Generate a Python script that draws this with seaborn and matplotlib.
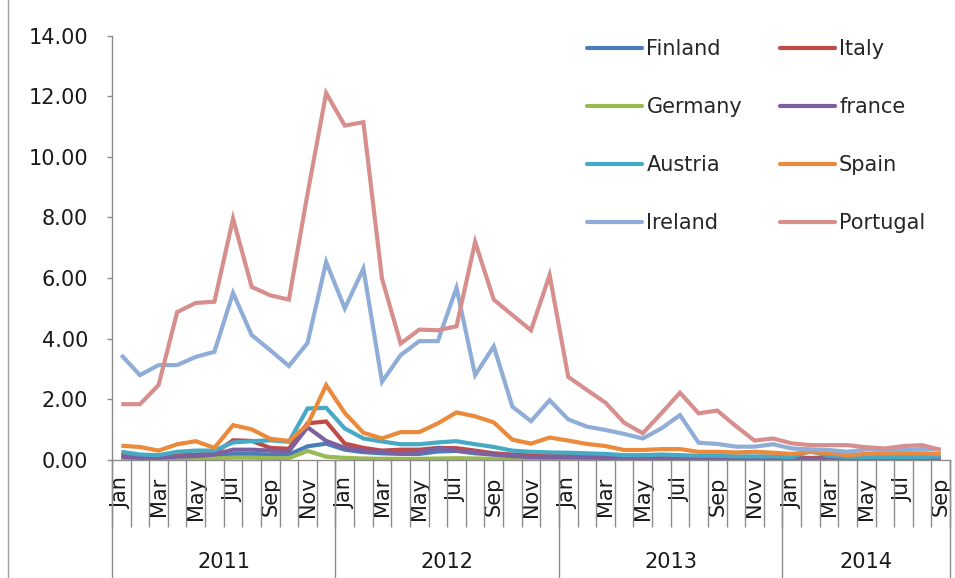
import numpy as np
import pandas as pd
import matplotlib
matplotlib.use("Agg")
import matplotlib.pyplot as plt
import matplotlib.transforms as mtransforms
from matplotlib.lines import Line2D
import seaborn as sns

# ---------------- data ----------------
years = ["2011", "2012", "2013", "2014"]
month_names = ["Jan", "Feb", "Mar", "Apr", "May", "Jun",
               "Jul", "Aug", "Sep", "Oct", "Nov", "Dec"]
months_per_year = [12, 12, 12, 9]

countries = ["Finland", "Italy", "Germany", "france",
             "Austria", "Spain", "Ireland", "Portugal"]

finland = [0.08, 0.06, 0.06, 0.08, 0.10, 0.12, 0.20, 0.20, 0.18, 0.18, 0.45, 0.54,
           0.34, 0.26, 0.22, 0.20, 0.20, 0.28, 0.30, 0.22, 0.18, 0.14, 0.12, 0.10,
           0.10, 0.09, 0.08, 0.08, 0.08, 0.07, 0.07, 0.07, 0.06, 0.06, 0.06, 0.06,
           0.06, 0.06, 0.06, 0.05, 0.05, 0.05, 0.05, 0.05, 0.05]
italy = [0.15, 0.10, 0.10, 0.15, 0.18, 0.22, 0.65, 0.63, 0.40, 0.37, 1.21, 1.27,
         0.54, 0.40, 0.31, 0.34, 0.34, 0.40, 0.39, 0.31, 0.22, 0.18, 0.15, 0.14,
         0.14, 0.12, 0.10, 0.10, 0.10, 0.10, 0.10, 0.09, 0.09, 0.08, 0.08, 0.08,
         0.07, 0.07, 0.07, 0.06, 0.06, 0.06, 0.06, 0.06, 0.06]
germany = [0.03, 0.02, 0.02, 0.03, 0.04, 0.05, 0.08, 0.08, 0.06, 0.06, 0.30, 0.11,
           0.07, 0.05, 0.04, 0.04, 0.04, 0.05, 0.06, 0.05, 0.04, 0.03, 0.03, 0.03,
           0.03, 0.03, 0.03, 0.02, 0.02, 0.02, 0.02, 0.02, 0.02, 0.02, 0.02, 0.02,
           0.02, 0.02, 0.02, 0.02, 0.02, 0.02, 0.02, 0.02, 0.02]
france = [0.11, 0.07, 0.07, 0.11, 0.13, 0.18, 0.34, 0.34, 0.31, 0.29, 1.08, 0.63,
          0.40, 0.31, 0.26, 0.22, 0.25, 0.40, 0.31, 0.25, 0.18, 0.13, 0.10, 0.09,
          0.09, 0.08, 0.07, 0.07, 0.06, 0.06, 0.06, 0.05, 0.05, 0.05, 0.05, 0.04,
          0.04, 0.04, 0.04, 0.04, 0.04, 0.04, 0.04, 0.04, 0.04]
austria = [0.27, 0.18, 0.16, 0.27, 0.31, 0.31, 0.58, 0.62, 0.65, 0.60, 1.70, 1.72,
           1.04, 0.71, 0.61, 0.52, 0.52, 0.58, 0.62, 0.52, 0.43, 0.31, 0.27, 0.25,
           0.24, 0.22, 0.20, 0.16, 0.16, 0.18, 0.16, 0.14, 0.14, 0.12, 0.12, 0.12,
           0.10, 0.28, 0.14, 0.10, 0.10, 0.10, 0.10, 0.10, 0.12]
spain = [0.47, 0.43, 0.31, 0.52, 0.62, 0.40, 1.15, 1.01, 0.70, 0.63, 1.16, 2.47,
         1.55, 0.90, 0.71, 0.92, 0.92, 1.21, 1.57, 1.44, 1.24, 0.67, 0.54, 0.74,
         0.64, 0.53, 0.46, 0.33, 0.33, 0.36, 0.36, 0.27, 0.27, 0.25, 0.27, 0.24,
         0.20, 0.27, 0.22, 0.16, 0.20, 0.22, 0.22, 0.22, 0.20]
ireland = [3.46, 2.80, 3.13, 3.13, 3.40, 3.57, 5.51, 4.12, 3.62, 3.10, 3.86, 6.53,
           5.00, 6.31, 2.58, 3.46, 3.92, 3.92, 5.68, 2.80, 3.75, 1.76, 1.28, 1.97,
           1.34, 1.10, 0.99, 0.86, 0.71, 1.04, 1.48, 0.57, 0.53, 0.44, 0.44, 0.52,
           0.38, 0.35, 0.33, 0.27, 0.35, 0.33, 0.33, 0.36, 0.35]
portugal = [1.84, 1.84, 2.47, 4.88, 5.18, 5.22, 7.96, 5.71, 5.43, 5.29, 8.78, 12.10,
            11.03, 11.14, 5.98, 3.84, 4.30, 4.28, 4.41, 7.19, 5.29, 4.78, 4.28, 6.10,
            2.74, 2.31, 1.89, 1.23, 0.88, 1.54, 2.22, 1.54, 1.63, 1.12, 0.64, 0.71,
            0.55, 0.49, 0.49, 0.49, 0.42, 0.38, 0.46, 0.49, 0.33]

series = {"Finland": finland, "Italy": italy, "Germany": germany, "france": france,
          "Austria": austria, "Spain": spain, "Ireland": ireland, "Portugal": portugal}

colors = {"Finland": "#4A7EBB", "Italy": "#BE4B48", "Germany": "#98B954",
          "france": "#7D60A0", "Austria": "#46AAC5", "Spain": "#EC8A3C",
          "Ireland": "#8FADD6", "Portugal": "#D68F8D"}

# month labels (every month is a category)
month_labels = []
for y, n in zip(years, months_per_year):
    month_labels += month_names[:n]
n_months = len(month_labels)

rows = []
for c in countries:
    for i, v in enumerate(series[c]):
        rows.append({"idx": i, "value": v, "country": c})
df = pd.DataFrame(rows)

# ---------------- figure ----------------
sns.set_theme(style="white")
plt.rcParams["font.family"] = ["DejaVu Sans"]

W, H = 955, 578
fig = plt.figure(figsize=(W / 100, H / 100), dpi=100)
ax_left, ax_right, ax_top, ax_bottom = 112, 950, 35.5, 460
ax = fig.add_axes([ax_left / W, 1 - ax_bottom / H,
                   (ax_right - ax_left) / W, (ax_bottom - ax_top) / H])

sns.lineplot(data=df, x="idx", y="value", hue="country", hue_order=countries,
             palette=colors, linewidth=3.0, errorbar=None, legend=False, ax=ax)
for ln in ax.lines:
    ln.set_solid_joinstyle("miter")
    ln.set_solid_capstyle("butt")

grey = "#8C8C8C"
ax.set_xlim(-0.5, n_months - 0.5)
ax.set_ylim(0, 14)
ax.set_xlabel("")
ax.set_ylabel("")
for s in ["top", "right"]:
    ax.spines[s].set_visible(False)
for s in ["left", "bottom"]:
    ax.spines[s].set_color(grey)
    ax.spines[s].set_linewidth(1.0)

# y axis
yt = np.arange(0, 15, 2)
ax.set_yticks(yt)
ax.set_yticklabels([f"{v:.2f}" for v in yt], fontsize=15, color="#1a1a1a")
ax.tick_params(axis="y", which="major", direction="out", length=5 * 0.72,
               width=1.0, color=grey, pad=13.5, left=True)

# x axis: month labels at centers (odd-indexed hidden), ticks at boundaries
ax.set_xticks(np.arange(n_months))
ax.set_xticklabels([m if i % 2 == 0 else "" for i, m in enumerate(month_labels)],
                   rotation=90, fontsize=15, color="#1a1a1a", va="top", ha="center")
ax.tick_params(axis="x", which="major", length=0, pad=12, bottom=True)
ax.set_xticks(np.arange(-0.5, n_months, 1.0), minor=True)
ax.tick_params(axis="x", which="minor", direction="out", length=67 * 0.72,
               width=1.0, color=grey, bottom=True)

# year separators and labels
trans = mtransforms.blended_transform_factory(ax.transData, ax.transAxes)
ax_h_px = ax_bottom - ax_top
sep_bottom = -(577 - ax_bottom) / ax_h_px
bounds = [-0.5]
start = 0
for n in months_per_year:
    start += n
    bounds.append(start - 0.5)
for b in bounds:
    ax.add_line(Line2D([b, b], [0, sep_bottom], transform=trans, color=grey,
                       linewidth=1.0, clip_on=False))
for y, b0, b1 in zip(years, bounds[:-1], bounds[1:]):
    ax.text((b0 + b1) / 2, -(562 - ax_bottom) / ax_h_px, y, transform=trans,
            ha="center", va="center", fontsize=15, color="#1a1a1a")

# chart border line on the left
fig.add_artist(Line2D([8 / W, 8 / W], [0, 1], transform=fig.transFigure,
                      color="#A0A0A0", linewidth=1.0))

# legend (Excel row-major order -> matplotlib column-major)
leg_order = ["Finland", "Germany", "Austria", "Ireland",
             "Italy", "france", "Spain", "Portugal"]
handles = [Line2D([0], [0], color=colors[c], linewidth=3.0) for c in leg_order]
fig.legend(handles, leg_order, loc="upper left",
           bbox_to_anchor=(587 / W, 1 - 39 / H), ncol=2, frameon=False,
           fontsize=15, handlelength=2.65, handletextpad=0.2,
           columnspacing=1.8, labelspacing=1.83, borderpad=0, borderaxespad=0)

fig.savefig("out.png", dpi=100)
